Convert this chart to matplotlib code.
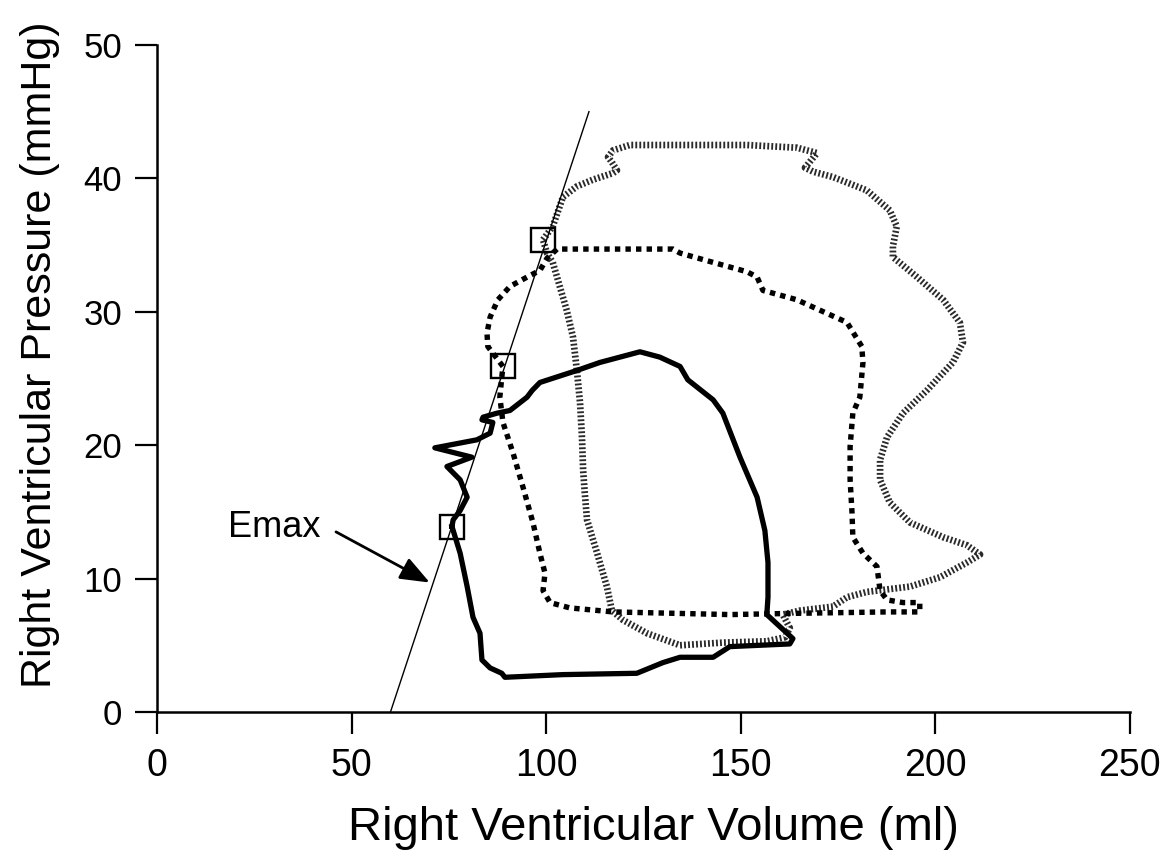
import matplotlib.pyplot as plt

plt.rcParams['font.family'] = ['Liberation Sans', 'DejaVu Sans']

# Emax line (end-systolic pressure-volume relation)
emax_vol = [60, 111]
emax_pres = [0, 45]

# end-systolic points on the Emax line
esp_vol = [75.8, 88.9, 99.2]
esp_pres = [13.9, 25.9, 35.4]

# solid loop (smallest)
solid_vol = [75.8, 77.9, 79.7, 81.2, 83.0, 83.5, 85.6, 88.6, 89.4, 104.3, 123.3, 130.0,
             134.4, 142.9, 147.2, 162.6, 163.4, 156.7, 157.0, 157.0, 156.2, 154.2, 149.8,
             145.4, 142.9, 136.4, 134.4, 129.2, 124.1, 113.8, 107.9, 98.4, 96.4, 95.1,
             90.7, 87.4, 83.8, 83.5, 86.3, 85.6, 82.2, 71.4, 80.9, 74.5, 77.9, 79.7,
             77.9, 76.1, 75.8]
solid_pres = [13.9, 11.9, 9.4, 7.1, 5.9, 3.9, 3.3, 2.9, 2.6, 2.8, 2.9, 3.7,
              4.1, 4.1, 4.9, 5.1, 5.5, 7.3, 8.6, 11.2, 13.6, 16.1, 19.1,
              22.4, 23.4, 24.9, 25.9, 26.6, 27.0, 26.2, 25.6, 24.7, 24.1, 23.6,
              22.6, 22.4, 22.1, 21.9, 21.7, 20.9, 20.4, 19.8, 19.1, 18.4, 17.4, 16.1,
              15.1, 14.4, 13.9]

# black dotted loop (middle)
dot_vol = [88.9, 85.0, 84.8, 85.6, 87.6, 90.7, 95.1, 98.4, 100.2, 102.8, 117.0, 132.6,
           134.4, 142.9, 151.6, 154.2, 155.7, 164.4, 177.3, 181.1, 181.4, 180.6, 178.8,
           178.1, 178.1, 178.6, 178.8, 181.4, 185.0, 185.8, 187.6, 191.7, 196.0, 196.0,
           187.6, 165.2, 147.2, 117.2, 106.1, 101.0, 99.2, 99.7, 98.4, 96.6, 94.0, 91.5,
           88.9, 88.1, 88.6, 88.9]
dot_pres = [25.9, 27.4, 28.4, 29.6, 30.9, 31.9, 32.6, 33.1, 34.0, 34.7, 34.7, 34.7,
            34.4, 33.7, 33.0, 32.6, 31.6, 30.9, 29.2, 27.4, 26.2, 23.6, 22.4,
            19.9, 17.4, 14.9, 13.1, 11.9, 10.9, 9.1, 8.4, 8.2, 8.2, 7.5,
            7.5, 7.4, 7.3, 7.5, 7.8, 8.2, 9.1, 10.4, 11.9, 14.2, 16.9, 19.4,
            21.7, 23.6, 25.1, 25.9]

# grey dotted loop (largest)
grey_vol = [99.2, 101.7, 104.3, 107.9, 112.0, 117.2, 118.2, 116.9, 115.9, 117.2, 121.5,
            134.4, 151.6, 164.4, 169.6, 166.5, 168.6, 173.7, 182.4, 188.3, 190.1, 189.1,
            189.1, 195.3, 202.0, 206.3, 207.1, 204.5, 197.8, 191.7, 187.6, 185.8, 185.8,
            188.3, 193.5, 202.0, 208.1, 211.5, 208.1, 201.2, 193.5, 182.4, 177.3, 173.7,
            165.2, 160.8, 162.6, 161.4, 156.7, 145.4, 134.4, 125.9, 119.7, 116.9, 115.6,
            113.1, 110.5, 109.9, 109.5, 109.2, 108.7, 107.9, 106.9, 105.3, 103.5, 101.7,
            100.2, 99.2]
grey_pres = [35.4, 36.4, 38.6, 39.4, 39.9, 40.4, 40.6, 41.2, 41.6, 42.1, 42.5,
             42.5, 42.5, 42.3, 41.9, 40.8, 40.5, 40.1, 39.1, 37.6, 36.4, 34.9,
             34.1, 32.6, 30.9, 29.2, 27.7, 26.2, 24.1, 22.4, 20.6, 18.9, 17.4,
             15.7, 14.2, 13.1, 12.5, 11.8, 11.2, 10.1, 9.4, 9.0, 8.6, 7.9,
             7.6, 7.3, 6.3, 5.6, 5.3, 5.2, 5.0, 5.9, 6.9, 7.6, 9.4,
             11.9, 14.4, 16.5, 18.1, 20.6, 23.2, 25.6, 28.1, 30.1, 31.9, 33.7,
             34.4, 35.4]

x_ticks = [0, 50, 100, 150, 200, 250]
y_ticks = [0, 10, 20, 30, 40, 50]

fig = plt.figure(figsize=(11.68, 8.58), dpi=100)
ax = fig.add_axes([0.1344, 0.1702, 0.833, 0.7774])

ax.plot(grey_vol, grey_pres, color='#2a2a2a', lw=4.8, linestyle=(0, (0.28, 0.32)),
        dash_capstyle='butt')
ax.plot(dot_vol, dot_pres, color='black', lw=3.9, linestyle=(0, (1.0, 0.95)),
        dash_capstyle='butt')
ax.plot(solid_vol, solid_pres, color='black', lw=3.8, solid_joinstyle='round')
ax.plot(emax_vol, emax_pres, color='black', lw=1.0)
ax.plot(esp_vol, esp_pres, linestyle='none', marker='s', ms=17, mfc='none',
        mec='black', mew=1.7)

# Emax label + arrow
ax.text(30.1, 13.8, 'Emax', fontsize=26, ha='center', va='center')
ax.annotate('', xy=(70.1, 9.7), xytext=(46.0, 13.5),
            arrowprops=dict(arrowstyle='-|>,head_length=0.9,head_width=0.35',
                            mutation_scale=20, lw=2, color='black',
                            shrinkA=0, shrinkB=0))

ax.set_xlim(0, 250)
ax.set_ylim(0, 50)
ax.set_xticks(x_ticks)
ax.set_yticks(y_ticks)
for s in ['top', 'right']:
    ax.spines[s].set_visible(False)
for s in ['left', 'bottom']:
    ax.spines[s].set_linewidth(1.8)
ax.tick_params(direction='out', length=16, width=1.6, labelsize=25, pad=9)
ax.tick_params(axis='x', labelsize=27, pad=10)

ax.set_xlabel('Right Ventricular Volume (ml)', fontsize=34, va='center')
ax.xaxis.set_label_coords(0.51, -0.174)
ax.set_ylabel('Right Ventricular Pressure (mmHg)', fontsize=31, va='center')
ax.yaxis.set_label_coords(-0.12, 0.535)

fig.savefig('out.png', dpi=100)
